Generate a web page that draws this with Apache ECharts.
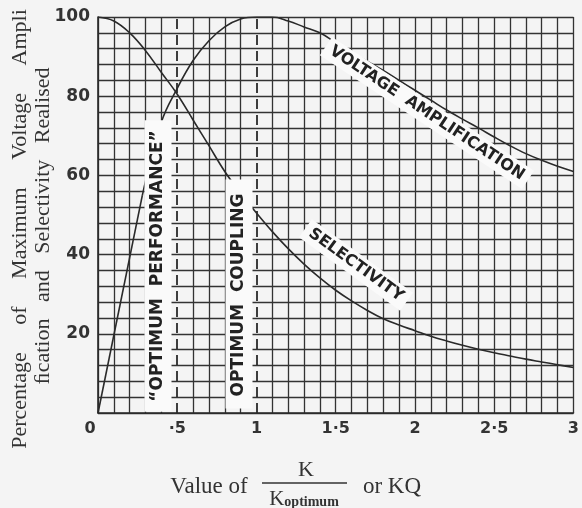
<!DOCTYPE html>
<html><head><meta charset="utf-8">
<script src="https://cdn.jsdelivr.net/npm/echarts@6/dist/echarts.min.js"></script>
<style>html,body{margin:0;padding:0;background:#f4f4f4}#c{width:582px;height:508px}</style>
</head><body><div id="c"></div>
<script>
// ---- data ----
const selK = [0,0.1,0.2,0.3,0.4,0.5,0.6,0.7,0.8,0.9,1.0,1.1,1.2,1.3,1.4,1.5,1.6,1.7,1.8,1.9,2.0,2.1,2.2,2.3,2.4,2.5,2.6,2.7,2.8,2.9,3.0];
const selectivity = [100,99,96,91.5,86,80.5,74,67.5,61,55.5,50.5,45.8,41.5,37.6,34.1,31,28.3,25.9,23.8,22.2,20.8,19.4,18.2,17.1,16.1,15.2,14.4,13.6,12.9,12.2,11.5];
const vaRiseK = [0,0.28];
const vaRise = [0,55];
const vaK = [0.28,0.4,0.5,0.6,0.7,0.8,0.9,1.0,1.1,1.2,1.3,1.4,1.5,1.6,1.7,1.8,1.9,2.0,2.1,2.2,2.3,2.4,2.5,2.6,2.7,2.8,2.9,3.0];
const voltageAmp = [55,73.5,82,89,94,97.5,99.5,100,100,99,97.5,96,93.5,91,88.8,86.5,84,81.5,79,76.5,74.2,72,69.7,67.5,65.5,63.8,62.3,61];
const xTickValues = [0,0.5,1,1.5,2,2.5,3];
const xTickLabels = ['0','·5','1','1·5','2','2·5','3'];
const yTickValues = [20,40,60,80,100];
const yTickLabels = ['20','40','60','80','100'];
const optimumLines = [0.5, 1.0];

const ink = '#2a2a2a';
const gridInk = '#333';
const chart = echarts.init(document.getElementById('c'));
const pairs = (xs, ys) => xs.map((x,i)=>[x, ys[i]]);

// vertical grid colours: no solid line where the dashed "optimum" lines sit
const xGridColors = [];
for (let i = 0; i <= 30; i++) {
  const hidden = optimumLines.some(v => Math.round(v * 10) === i);
  xGridColors.push(hidden ? 'rgba(0,0,0,0)' : gridInk);
}

chart.setOption({
  backgroundColor: '#f4f4f4',
  animation: false,
  grid: {left: 98, top: 17, width: 480, height: 396},
  xAxis: {
    type: 'value', min: 0, max: 3, interval: 0.1,
    axisLine: {show: true, lineStyle: {color: ink, width: 1.6}},
    axisTick: {show: false},
    splitLine: {show: true, lineStyle: {color: xGridColors, width: 1.3}},
    axisLabel: {
      margin: 8, color: '#333', fontFamily: 'DejaVu Sans', fontWeight: 'bold', fontSize: 16,
      formatter: v => {
        const i = xTickValues.findIndex(t => Math.abs(t - v) < 1e-6);
        if (i < 0) return '';
        return i === 0 ? '{z|' + xTickLabels[i] + '}' : xTickLabels[i];
      },
      rich: {z: {padding: [0, 16, 0, 0], fontFamily: 'DejaVu Sans', fontWeight: 'bold', fontSize: 16, color: '#333'}}
    }
  },
  yAxis: {
    type: 'value', min: 0, max: 100, interval: 4,
    axisLine: {show: true, lineStyle: {color: ink, width: 1.6}},
    axisTick: {show: false},
    splitLine: {show: true, lineStyle: {color: gridInk, width: 1.3}},
    axisLabel: {
      margin: 8, color: '#333', fontFamily: 'DejaVu Sans', fontWeight: 'bold', fontSize: 17,
      formatter: v => {
        const i = yTickValues.findIndex(t => Math.abs(t - v) < 1e-6);
        return i < 0 ? '' : yTickLabels[i];
      }
    }
  },
  series: [
    {
      name: 'Selectivity', type: 'line', data: pairs(selK, selectivity), smooth: 0.4,
      symbol: 'none', lineStyle: {color: ink, width: 1.6}, z: 5,
      markLine: {
        silent: true, symbol: ['none','none'], label: {show: false},
        lineStyle: {color: ink, width: 1.8, type: [10, 6]},
        data: optimumLines.map(x => ({xAxis: x}))
      }
    },
    {
      name: 'Voltage Amplification rise', type: 'line', data: pairs(vaRiseK, vaRise), smooth: false,
      symbol: 'none', lineStyle: {color: ink, width: 1.6}, z: 5
    },
    {
      name: 'Voltage Amplification', type: 'line', data: pairs(vaK, voltageAmp), smooth: 0.4,
      symbol: 'none', lineStyle: {color: ink, width: 1.6}, z: 5
    }
  ],
  graphic: [
    {type: 'text', z: 100, x: 158, y: 266, rotation: Math.PI/2,
     style: {text: '“OPTIMUM  PERFORMANCE”', font: 'bold 17px "DejaVu Sans"', fill: '#222',
       align: 'center', verticalAlign: 'middle', backgroundColor: '#fafafa', padding: [5, 10, 5, 10]}},
    {type: 'text', z: 100, x: 239, y: 294, rotation: Math.PI/2,
     style: {text: 'OPTIMUM  COUPLING', font: 'bold 17px "DejaVu Sans"', fill: '#222',
       align: 'center', verticalAlign: 'middle', backgroundColor: '#fafafa', padding: [5, 14, 5, 12]}},
    {type: 'text', z: 100, x: 427, y: 113, rotation: -33.5*Math.PI/180,
     style: {text: 'VOLTAGE  AMPLIFICATION', font: 'bold 16px "DejaVu Sans"', fill: '#222',
       align: 'center', verticalAlign: 'middle', backgroundColor: '#fafafa', padding: [3, 6, 3, 6]}},
    {type: 'text', z: 100, x: 356, y: 265, rotation: -36*Math.PI/180,
     style: {text: 'SELECTIVITY', font: 'bold 16px "DejaVu Sans"', fill: '#222',
       align: 'center', verticalAlign: 'middle', backgroundColor: '#fafafa', padding: [3, 6, 3, 6]}},
    {type: 'text', x: 20, y: 229, rotation: Math.PI/2,
     style: {text: 'Percentage     of     Maximum     Voltage     Ampli', font: '22px "Liberation Serif"', fill: '#333',
       align: 'center', verticalAlign: 'middle'}},
    {type: 'text', x: 43, y: 226, rotation: Math.PI/2,
     style: {text: 'ﬁcation   and   Selectivity   Realised', font: '22px "Liberation Serif"', fill: '#333',
       align: 'center', verticalAlign: 'middle'}},
    {type: 'text', x: 209, y: 487,
     style: {text: 'Value of', font: '23px "Liberation Serif"', fill: '#333', align: 'center', verticalAlign: 'middle'}},
    {type: 'text', x: 306, y: 470,
     style: {text: 'K', font: '22px "Liberation Serif"', fill: '#333', align: 'center', verticalAlign: 'middle'}},
    {type: 'line', shape: {x1: 262, y1: 483, x2: 347, y2: 483}, style: {stroke: '#333', lineWidth: 1.3}},
    {type: 'text', x: 304, y: 499,
     style: {text: '{a|K}{b|optimum}', align: 'center', verticalAlign: 'middle',
       rich: {a: {font: '21px "Liberation Serif"', fill: '#333', color: '#333'},
              b: {font: 'bold 14px "Liberation Serif"', fill: '#333', color: '#333', padding: [6, 0, 0, 0]}}}},
    {type: 'text', x: 392, y: 487,
     style: {text: 'or KQ', font: '23px "Liberation Serif"', fill: '#333', align: 'center', verticalAlign: 'middle'}}
  ]
});
</script></body></html>
